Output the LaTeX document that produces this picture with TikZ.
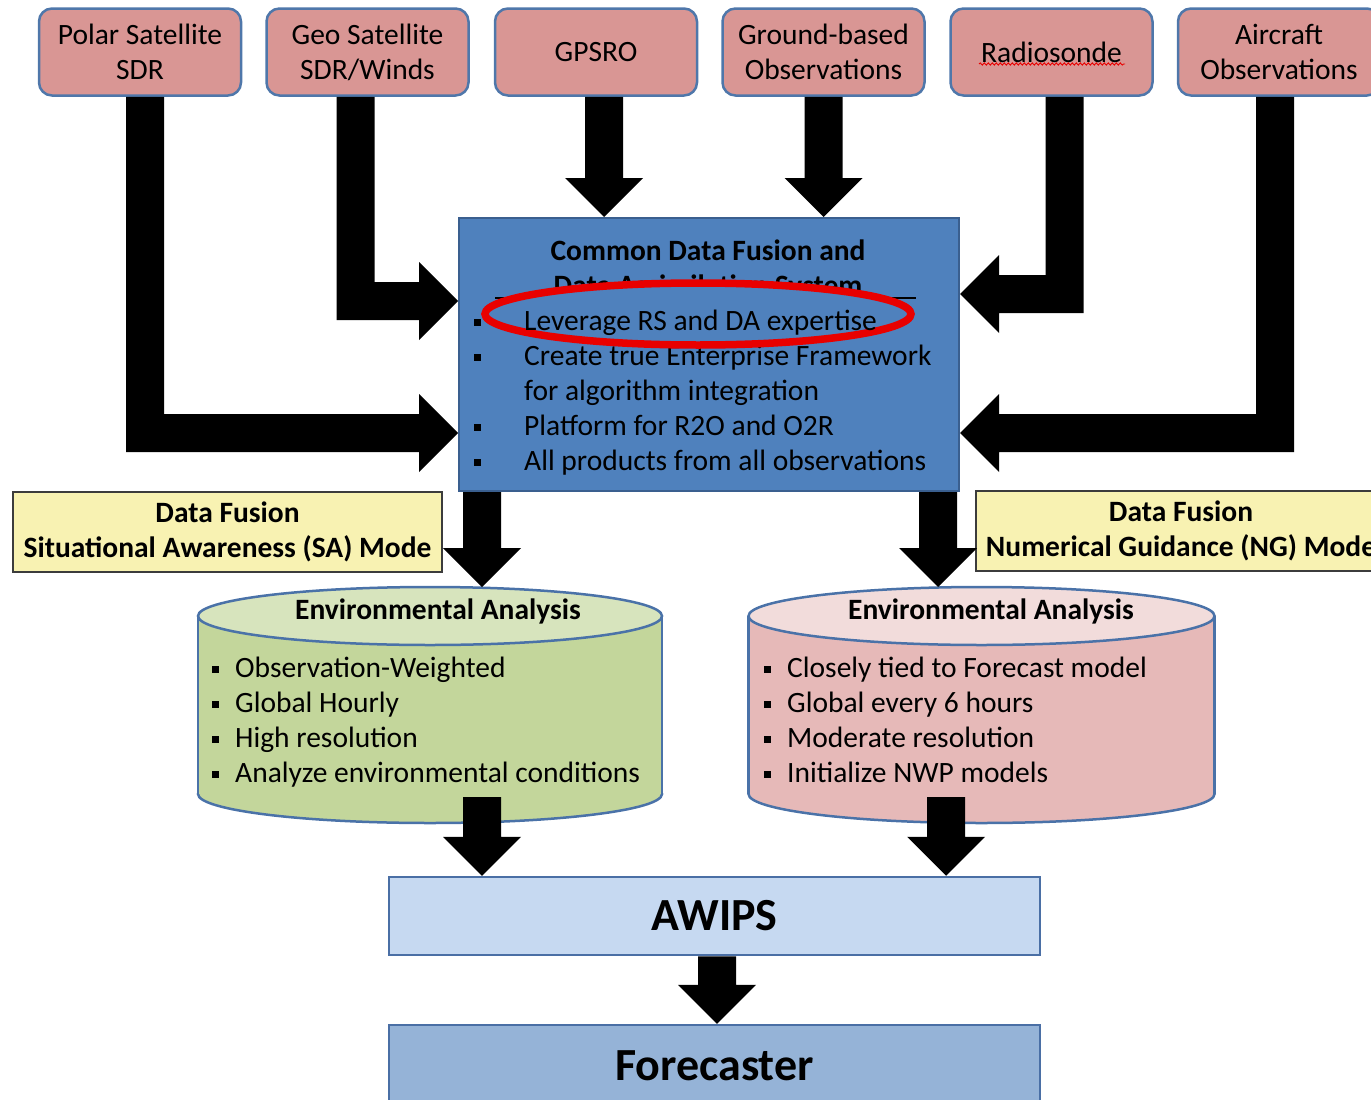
\documentclass[tikz,border=0pt]{standalone}
\usepackage{fontspec}
\setmainfont{Carlito}
\usetikzlibrary{calc,decorations.pathmorphing}
\definecolor{obsfill}{HTML}{D99694}
\definecolor{obsdraw}{HTML}{4F77AA}
\definecolor{fusfill}{HTML}{4F81BD}
\definecolor{fusdraw}{HTML}{3A5F8F}
\definecolor{greenbody}{HTML}{C3D69B}
\definecolor{greentop}{HTML}{D7E4BD}
\definecolor{pinkbody}{HTML}{E6B9B8}
\definecolor{pinktop}{HTML}{F2DCDB}
\definecolor{cylborder}{HTML}{4A72A8}
\definecolor{awfill}{HTML}{C6D9F1}
\definecolor{fcfill}{HTML}{95B3D7}
\definecolor{awdraw}{HTML}{4A6FA5}
\definecolor{ylwfill}{HTML}{F8F2B2}
\definecolor{ylwdraw}{HTML}{3C3C3C}
\definecolor{markred}{HTML}{E80000}
\newcommand\fnt{\fontsize{29.5}{35}\selectfont}
\newcommand\fntbig{\fontsize{46}{52}\selectfont}
% block arrows: #1 start (centre of shaft top), #2 tip
\newcommand\blkdown[2]{\fill[black] ($(#1)+(-19,0)$) -- ($(#2)+(-19,-39)$) -- ($(#2)+(-39,-39)$) -- (#2) -- ($(#2)+(39,-39)$) -- ($(#2)+(19,-39)$) -- ($(#1)+(19,0)$) -- cycle;}
\newcommand\blkright[2]{\fill[black] ($(#1)+(-19,0)$) -- ($(#1|-#2)+(-19,19)$) -- ($(#2)+(-39,19)$) -- ($(#2)+(-39,39)$) -- (#2) -- ($(#2)+(-39,-39)$) -- ($(#2)+(-39,-19)$) -- ($(#1|-#2)+(19,-19)$) -- ($(#1)+(19,0)$) -- cycle;}
\newcommand\blkleft[2]{\fill[black] ($(#1)+(19,0)$) -- ($(#1|-#2)+(19,19)$) -- ($(#2)+(39,19)$) -- ($(#2)+(39,39)$) -- (#2) -- ($(#2)+(39,-39)$) -- ($(#2)+(39,-19)$) -- ($(#1|-#2)+(-19,-19)$) -- ($(#1)+(-19,0)$) -- cycle;}
\begin{document}
\begin{tikzpicture}[x=1pt,y=-1pt,
  obs/.style={draw=obsdraw, line width=2.5pt, fill=obsfill, rounded corners=13pt, minimum width=202pt, minimum height=87pt, align=center, font=\fnt, inner sep=0pt},
  fusbox/.style={draw=fusdraw, line width=2pt, fill=fusfill, minimum width=500pt, minimum height=273pt, inner sep=0pt},
  ylw/.style={draw=ylwdraw, line width=1.5pt, fill=ylwfill, minimum height=80pt, align=center, font=\fnt\bfseries, inner sep=0pt},
  awbox/.style={draw=awdraw, line width=2.5pt, minimum width=651pt, font=\fntbig\bfseries, inner sep=0pt},
  txt/.style={font=\fnt, inner sep=0pt, anchor=base west},
  txtb/.style={font=\fnt\bfseries, inner sep=0pt, anchor=base},
  cylline/.style={draw=cylborder, line width=2.5pt}]
\useasboundingbox (0,0) rectangle (1371,1100);

% ---------- observation boxes ----------
\node[obs] (polar) at (140,52) {Polar Satellite\\SDR};
\node[obs] (geo) at (367.5,52) {Geo Satellite\\SDR/Winds};
\node[obs] (gps) at (596,52) {GPSRO};
\node[obs] (ground) at (823.5,52) {Ground-based\\Observations};
\node[obs] (radio) at (1051.5,52) {Radiosonde};
\node[obs] (air) at (1279,52) {Aircraft\\Observations};
\draw[markred, line width=0.9pt, decorate, decoration={snake, amplitude=1.1pt, segment length=4pt}] (979,64) -- (1125,64);

% ---------- central fusion box ----------
\node[fusbox] (fusion) at (709,354.5) {};
\node[txtb] (ct1) at (708,260) {Common Data Fusion and};
\node[txtb] (ct2) at (708,295) {Data Assimilation System};
\draw[line width=2pt] (495,298) -- (916,298);
\foreach \yy in {330,365,435,470} \fill (474,\yy-11) rectangle (481,\yy-4);
\node[txt] (c2) at (524,365) {Create true Enterprise Framework};
\node[txt] (c3) at (524,400) {for algorithm integration};
\node[txt] (c4) at (524,435) {Platform for R2O and O2R};
\node[txt] (c5) at (524,470) {All products from all observations};
\draw[markred, line width=7.5pt, fill=fusfill] (698,314) ellipse [x radius=213, y radius=31];
\node[txt] (c1) at (524,330) {Leverage RS and DA expertise};

% ---------- mode labels ----------
\node[ylw, minimum width=429pt] (sa) at (227.5,532) {Data Fusion\\Situational Awareness (SA) Mode};
\node[ylw, minimum width=410pt] (ng) at (1181,531) {Data Fusion\\Numerical Guidance (NG) Mode};

% ---------- cylinders ----------
% left (green)
\fill[greenbody] (430,794) ellipse [x radius=232, y radius=29];
\draw[cylline] (430,794) ellipse [x radius=232, y radius=29];
\fill[greenbody] (198,616) rectangle (662,794);
\draw[cylline] (198,616) -- (198,794);
\draw[cylline] (662,616) -- (662,794);
\draw[cylline, fill=greentop] (430,616) ellipse [x radius=232, y radius=29];
\node[txtb] (lt) at (438,619) {Environmental Analysis};
\foreach \yy in {677,712,747,782} \fill (212,\yy-11) rectangle (219,\yy-4);
\node[txt] (l1) at (235,677) {Observation-Weighted};
\node[txt] (l2) at (235,712) {Global Hourly};
\node[txt] (l3) at (235,747) {High resolution};
\node[txt] (l4) at (235,782) {Analyze environmental conditions};
\coordinate (lcyltop) at (482,587);
\coordinate (lcylbot) at (482,797);
% right (pink)
\fill[pinkbody] (981.5,794) ellipse [x radius=233, y radius=29];
\draw[cylline] (981.5,794) ellipse [x radius=233, y radius=29];
\fill[pinkbody] (748.5,616) rectangle (1214.5,794);
\draw[cylline] (748.5,616) -- (748.5,794);
\draw[cylline] (1214.5,616) -- (1214.5,794);
\draw[cylline, fill=pinktop] (981.5,616) ellipse [x radius=233, y radius=29];
\node[txtb] (rt) at (991,619) {Environmental Analysis};
\foreach \yy in {677,712,747,782} \fill (764,\yy-11) rectangle (771,\yy-4);
\node[txt] (r1) at (787,677) {Closely tied to Forecast model};
\node[txt] (r2) at (787,712) {Global every 6 hours};
\node[txt] (r3) at (787,747) {Moderate resolution};
\node[txt] (r4) at (787,782) {Initialize NWP models};
\coordinate (rcyltop) at (938,587);
\coordinate (rcylbot) at (946,797);

% ---------- AWIPS / Forecaster ----------
\node[awbox, fill=awfill, minimum height=78pt] (awips) at (714.5,916) {AWIPS};
\node[awbox, fill=fcfill, minimum height=82pt] (fcst) at (714.5,1066) {Forecaster};

% ---------- arrows ----------
\coordinate (sgps) at ($(gps.south)+(8,0)$);
\coordinate (sground) at (ground.south);
\coordinate (sgeo) at ($(geo.south)+(-12,0)$);
\coordinate (spolar) at ($(polar.south)+(5,0)$);
\coordinate (sradio) at ($(radio.south)+(13,0)$);
\coordinate (sair) at ($(air.south)+(-4,0)$);
\coordinate (tgps) at (fusion.north -| sgps);
\coordinate (tground) at (fusion.north -| sground);
\coordinate (tgeo) at (fusion.west |- 0,301);
\coordinate (tpolar) at (fusion.west |- 0,433);
\coordinate (tradio) at (fusion.east |- 0,294);
\coordinate (tair) at (fusion.east |- 0,433);
\blkdown{sgps}{tgps}
\blkdown{sground}{tground}
\blkright{sgeo}{tgeo}
\blkright{spolar}{tpolar}
\blkleft{sradio}{tradio}
\blkleft{sair}{tair}
\coordinate (fl) at (fusion.south -| lcyltop);
\coordinate (fr) at (fusion.south -| rcyltop);
\blkdown{fl}{lcyltop}
\blkdown{fr}{rcyltop}
\coordinate (al) at (awips.north -| lcylbot);
\coordinate (ar) at (awips.north -| rcylbot);
\blkdown{lcylbot}{al}
\blkdown{rcylbot}{ar}
\coordinate (sawips) at ($(awips.south)+(2.5,0)$);
\coordinate (tfcst) at (fcst.north -| sawips);
\blkdown{sawips}{tfcst}
\end{tikzpicture}
\end{document}
